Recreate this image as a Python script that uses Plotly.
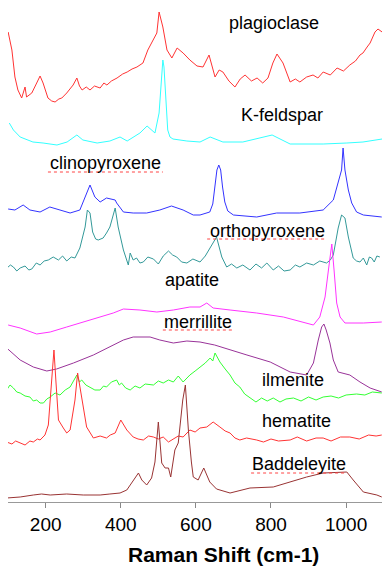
import plotly.graph_objects as go

# ---- data (x = Raman shift cm-1, y = stacked intensity, arbitrary units) ----
plag_x = [100, 110, 118, 126, 136, 145, 149, 163, 176, 185, 193, 206, 216, 225, 235, 243, 256, 265, 273, 283, 290, 297,
          308, 318, 330, 345, 355, 363, 375, 390, 405, 417, 430, 443, 459, 472, 486, 496, 502, 512, 523, 536, 550, 566,
          584, 603, 619, 635, 651, 662, 672, 688, 704, 718, 731, 748, 763, 778, 792, 805, 816, 832, 851, 865, 877, 895,
          912, 925, 939, 958, 976, 993, 1010, 1025, 1037, 1045, 1056, 1064, 1077, 1085, 1096]
plag_y = [470, 452, 425, 412, 404, 415, 405, 409, 419, 426, 419, 404, 401, 400, 403, 404, 409, 413, 417, 424, 416, 412,
          415, 412, 416, 414, 419, 417, 421, 424, 428, 430, 433, 435, 439, 452, 462, 469, 490, 475, 452, 444, 454, 449,
          442, 436, 435, 447, 425, 432, 430, 421, 415, 423, 427, 421, 424, 419, 424, 439, 448, 439, 420, 423, 420, 425,
          427, 424, 430, 427, 434, 431, 437, 441, 447, 449, 455, 459, 470, 473, 470]

kfs_x = [103, 114, 132, 150, 166, 193, 230, 257, 283, 299, 337, 371, 398, 417, 451, 470, 483, 491, 502, 509, 512, 515,
         520, 525, 531, 539, 576, 611, 638, 672, 725, 803, 851, 939, 1002, 1045, 1096]
kfs_y = [379, 372, 365, 362, 360, 359, 357, 360, 367, 362, 359, 361, 365, 361, 369, 376, 372, 369, 389, 429, 442, 435,
         402, 372, 365, 363, 361, 360, 365, 360, 360, 367, 358, 358, 359, 360, 363]

cpx_x = [100, 118, 140, 158, 185, 211, 238, 265, 291, 305, 318, 331, 345, 362, 385, 389, 407, 433, 469, 504, 535, 566,
         593, 611, 637, 645, 651, 656, 661, 666, 671, 677, 685, 700, 762, 815, 877, 939, 966, 979, 988, 992, 997, 1006,
         1015, 1028, 1046, 1095]
cpx_y = [293, 292, 297, 292, 290, 295, 292, 289, 292, 305, 317, 305, 300, 304, 302, 299, 290, 289, 289, 292, 296, 292,
         287, 287, 290, 298, 315, 332, 337, 332, 315, 300, 291, 287, 285, 289, 289, 292, 302, 319, 332, 354, 332, 312,
         299, 290, 287, 285]

opx_x = [97, 106, 114, 123, 132, 145, 155, 163, 175, 185, 196, 207, 220, 234, 245, 256, 268, 278, 291, 305, 311, 318,
         325, 333, 340, 353, 362, 371, 385, 393, 407, 420, 425, 433, 442, 451, 460, 472, 487, 500, 513, 527, 538, 549,
         562, 576, 592, 611, 625, 638, 655, 669, 682, 695, 709, 725, 744, 760, 775, 789, 806, 820, 835, 851, 865, 877,
         895, 913, 930, 948, 958, 966, 979, 988, 997, 1006, 1015, 1019, 1028, 1037, 1046, 1055, 1062, 1068, 1075, 1082,
         1090]
opx_y = [234, 237, 235, 231, 234, 236, 232, 233, 239, 237, 241, 242, 245, 242, 246, 241, 245, 244, 254, 275, 292, 289,
         270, 263, 262, 264, 269, 275, 294, 275, 252, 237, 249, 242, 244, 239, 240, 245, 243, 238, 246, 251, 247, 245,
         240, 239, 243, 240, 246, 254, 265, 245, 235, 238, 234, 237, 232, 238, 234, 239, 232, 236, 231, 232, 237, 235,
         239, 237, 241, 239, 242, 247, 274, 287, 284, 265, 249, 244, 241, 240, 244, 237, 245, 244, 240, 246, 245]

apa_x = [100, 132, 176, 212, 256, 300, 345, 380, 407, 451, 496, 540, 584, 611, 629, 646, 691, 762, 833, 886, 913, 930,
         944, 953, 962, 968, 975, 984, 997, 1046, 1095]
apa_y = [177, 174, 168, 170, 175, 180, 185, 189, 193, 192, 190, 192, 195, 195, 199, 194, 192, 189, 185, 180, 177, 185,
         205, 232, 258, 232, 199, 185, 179, 179, 180]

mer_x = [96, 132, 167, 203, 229, 274, 327, 371, 407, 433, 478, 504, 540, 576, 611, 650, 690, 736, 798, 851, 895, 913,
         926, 935, 941, 947, 957, 966, 979, 1010, 1037, 1064, 1095]
mer_y = [154, 142, 135, 131, 133, 139, 147, 155, 162, 165, 165, 162, 159, 161, 160, 157, 152, 147, 140, 130, 127, 139,
         162, 175, 178, 172, 159, 142, 130, 127, 120, 114, 110]

ilm_x = [96, 105, 114, 123, 132, 145, 158, 167, 176, 185, 194, 203, 212, 225, 238, 252, 265, 275, 283, 290, 296, 307,
         318, 331, 345, 354, 362, 375, 389, 396, 402, 413, 425, 438, 451, 465, 487, 500, 513, 527, 540, 553, 566, 576,
         584, 598, 611, 625, 638, 645, 651, 658, 664, 678, 691, 704, 717, 730, 744, 760, 775, 790, 806, 824, 840, 860,
         880, 900, 920, 939, 960, 980, 1000, 1028, 1050, 1070, 1095]
ilm_y = [112, 117, 114, 110, 109, 106, 105, 101, 102, 99, 99, 103, 105, 109, 107, 112, 115, 121, 127, 120, 122, 117,
         115, 112, 112, 116, 115, 120, 122, 117, 119, 114, 112, 116, 114, 118, 117, 121, 119, 122, 120, 126, 120, 124,
         127, 131, 135, 139, 144, 141, 149, 144, 140, 133, 127, 119, 115, 108, 104, 100, 104, 101, 104, 100, 103, 104,
         101, 105, 102, 105, 106, 104, 107, 108, 107, 110, 109]

hem_x = [96, 110, 120, 132, 145, 158, 167, 178, 185, 198, 207, 212, 218, 222, 227, 234, 247, 256, 265, 278, 285, 296,
         309, 327, 345, 362, 372, 385, 400, 416, 433, 446, 460, 474, 487, 500, 513, 527, 540, 553, 566, 584, 598, 611,
         629, 646, 664, 678, 691, 704, 717, 735, 762, 780, 800, 820, 851, 870, 895, 920, 939, 960, 985, 1010, 1035, 1060,
         1080, 1095]
hem_y = [60, 58, 61, 59, 57, 61, 60, 63, 62, 67, 77, 102, 135, 152, 122, 82, 74, 69, 72, 102, 129, 105, 75, 64, 66,
         64, 67, 69, 82, 72, 65, 63, 62, 66, 65, 63, 65, 60, 63, 66, 65, 72, 70, 74, 75, 80, 75, 71, 69, 64, 62, 64, 62,
         60, 63, 61, 62, 65, 61, 64, 64, 61, 65, 65, 63, 67, 66, 67]

bad_x = [96, 132, 167, 189, 212, 256, 300, 345, 371, 398, 416, 433, 447, 456, 469, 482, 491, 500, 509, 518, 527, 533,
         544, 553, 565, 572, 580, 588, 593, 606, 621, 637, 655, 691, 744, 806, 851, 895, 939, 1002, 1019, 1046, 1082,
         1095]
bad_y = [4, 5, 7, 8, 7, 8, 7, 7, 8, 9, 12, 22, 29, 22, 17, 24, 40, 80, 39, 34, 34, 25, 52, 59, 102, 117, 72, 40, 25,
         22, 34, 20, 13, 9, 14, 15, 20, 25, 29, 30, 22, 10, 7, 5]

series_x = [plag_x, kfs_x, cpx_x, opx_x, apa_x, mer_x, ilm_x, hem_x, bad_x]
series_y = [plag_y, kfs_y, cpx_y, opx_y, apa_y, mer_y, ilm_y, hem_y, bad_y]
colors = ["#FF3333", "#33FFFF", "#3333FF", "#339999", "#FF33FF", "#993399", "#33FF33", "#FF3333", "#993333"]

label_text = ["plagioclase", "K-feldspar", "clinopyroxene", "orthopyroxene", "apatite", "merrillite",
              "ilmenite", "hematite", "Baddeleyite"]
label_x = [808, 829, 358, 790, 590, 606, 859, 869, 875]
label_y = [479, 387, 339, 271, 222, 180, 122, 81, 38]
underline_x0 = [206, 630, 512, 747]
underline_x1 = [512, 949, 699, 1003]
underline_y = [330, 263, 172, 29]

x_ticks = [200, 400, 600, 800, 1000]
x_title = "Raman Shift (cm-1)"

FONT = "Arial, Liberation Sans, sans-serif"

fig = go.Figure()
for xs, ys, c in zip(series_x, series_y, colors):
    fig.add_trace(go.Scatter(x=xs, y=ys, mode="lines", line=dict(color=c, width=1), hoverinfo="skip",
                             showlegend=False))

for t, lx, ly in zip(label_text, label_x, label_y):
    fig.add_annotation(x=lx, y=ly, xref="x", yref="y", text=t, showarrow=False,
                       font=dict(family=FONT, size=18, color="black"), xanchor="center", yanchor="middle")

for x0, x1, uy in zip(underline_x0, underline_x1, underline_y):
    fig.add_shape(type="line", x0=x0, x1=x1, y0=uy, y1=uy, xref="x", yref="y",
                  line=dict(color="#FF4444", width=1, dash="dot"))

# axis title (offset to the right, as in the original)
fig.add_annotation(x=0.572, y=-0.107, xref="paper", yref="paper", text="<b>" + x_title + "</b>",
                   showarrow=False, font=dict(family=FONT, size=21, color="black"),
                   xanchor="center", yanchor="middle")

fig.update_layout(
    width=390, height=570,
    margin=dict(l=0, r=14, t=0, b=76),
    paper_bgcolor="white", plot_bgcolor="white",
    font=dict(family=FONT, color="black"),
    xaxis=dict(range=[99.6, 1101], tickvals=x_ticks, ticktext=[str(v) for v in x_ticks],
               ticks="outside", ticklen=5, tickcolor="#888888", showgrid=False, zeroline=False,
               showline=True, linecolor="#999999", linewidth=1, automargin=False,
               tickfont=dict(family=FONT, size=19, color="black")),
    yaxis=dict(range=[0, 494], showticklabels=False, ticks="", showgrid=False, zeroline=False,
               showline=True, mirror=True, linecolor="#999999", linewidth=1, automargin=False),
)

fig.write_html("out.html")
